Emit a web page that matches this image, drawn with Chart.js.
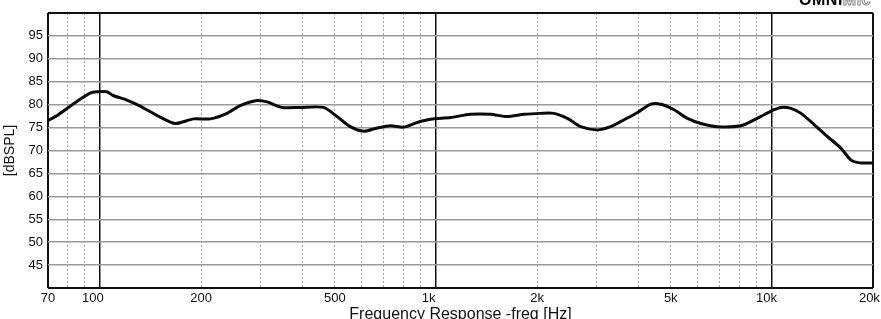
<!DOCTYPE html>
<html>
<head>
<meta charset="utf-8">
<script src="https://cdn.jsdelivr.net/npm/chart.js@4.4.1/dist/chart.umd.min.js"></script>
<style>
  html, body { margin: 0; padding: 0; background: #fff; overflow: hidden; }
  #wrap { position: relative; width: 881px; height: 319px; }
  #logo { position: absolute; right: 10px; top: -8px; font-family: "Liberation Sans", Arial, sans-serif;
          font-size: 16px; line-height: 16px; font-weight: bold; letter-spacing: 0.5px; white-space: nowrap; }
  #logo .o { color: #000; }
  #logo .m { color: #fff; -webkit-text-stroke: 1px #888; }
</style>
</head>
<body>
<div id="wrap">
  <canvas id="c" width="881" height="319"></canvas>
  <div id="logo"><span class="o">OMNI</span><span class="m">Mic</span></div>
</div>
<script>
// ---- data ----
const freqHz = [70, 75.1, 85.3, 93.4, 97.8, 104.7, 109.4, 120.2, 131.6, 151, 167.4, 189.8, 212.9, 238.7,
  261.5, 293.3, 314, 348, 394.7, 463, 507.7, 556, 609.5, 668, 732, 802, 879, 963, 1105, 1267, 1454, 1630,
  1828, 2050, 2245, 2462, 2697, 3024, 3313, 3630, 3981, 4361, 4670, 5116, 5608, 6145, 6890, 8085, 8862,
  9486, 10164, 10640, 11400, 12210, 13380, 14660, 16060, 17200, 18300, 20000];
const splDb = [76.5, 77.8, 80.7, 82.5, 82.8, 82.8, 82.0, 81.0, 79.7, 77.3, 75.9, 76.9, 76.9, 78.1,
  79.8, 80.9, 80.6, 79.4, 79.4, 79.4, 77.4, 75.2, 74.2, 74.9, 75.4, 75.1, 76.1, 76.8, 77.2, 77.9, 77.9, 77.4,
  77.9, 78.1, 78.1, 77.0, 75.2, 74.5, 75.2, 76.7, 78.3, 80.1, 80.1, 78.9, 77.0, 75.9, 75.2, 75.4, 76.7,
  77.8, 78.9, 79.4, 79.2, 78.1, 75.6, 73.0, 70.5, 67.9, 67.3, 67.3];

const xTickValues = [70, 100, 200, 500, 1000, 2000, 5000, 10000, 20000];
const xTickLabels = ['70', '100    ', '200', '500', '1k    ', '2k', '5k', '10k   ', '20k  '];
const xMajorValues = [100, 1000, 10000];
const xMinorValues = [80, 90, 200, 300, 400, 500, 600, 700, 800, 900,
  2000, 3000, 4000, 5000, 6000, 7000, 8000, 9000];
const yMin = 40, yMax = 100, yStep = 5;

const xTitle = 'Frequency Response -freq [Hz]';
const yTitle = '[dBSPL]';

// ---- chart ----
const FONT = '"Liberation Sans", Arial, Helvetica, sans-serif';
const points = freqHz.map((f, i) => ({ x: f, y: splDb[i] }));
const xMin = xTickValues[0], xMax = xTickValues[xTickValues.length - 1];

new Chart(document.getElementById('c'), {
  type: 'line',
  data: {
    datasets: [{
      data: points,
      borderColor: '#0a0a0a',
      borderWidth: 3,
      pointRadius: 0,
      tension: 0.25,
      fill: false
    }]
  },
  options: {
    responsive: false,
    animation: false,
    devicePixelRatio: 1,
    layout: { padding: { top: 13, right: 8, left: 0, bottom: 0 } },
    plugins: { legend: { display: false }, tooltip: { enabled: false } },
    scales: {
      x: {
        type: 'logarithmic',
        position: 'bottom',
        min: xMin, max: xMax,
        afterBuildTicks: (s) => { s.ticks = xTickValues.map(v => ({ value: v })); },
        afterFit: (s) => { s.height = 31; s.paddingLeft = 0; s.paddingRight = 0; },
        ticks: {
          autoSkip: false, maxRotation: 0, minRotation: 0, padding: 3,
          color: '#111', font: { family: FONT, size: 13 },
          callback: (v, i) => xTickLabels[i]
        },
        grid: {
          drawTicks: false,
          color: (c) => {
            const v = c.tick && c.tick.value;
            if (v === xMin || v === xMax) return '#111';
            if (xMajorValues.includes(v)) return '#111';
            return 'rgba(0,0,0,0)';
          },
          lineWidth: (c) => {
            const v = c.tick && c.tick.value;
            if (v === xMin || v === xMax) return 2;
            return 1.5;
          }
        },
        border: { display: false },
        title: { display: true, text: xTitle, color: '#111', font: { family: FONT, size: 16, lineHeight: 0.6 }, padding: { top: 0, bottom: 0 } }
      },
      x2: {
        type: 'logarithmic',
        position: 'bottom',
        min: xMin, max: xMax,
        afterBuildTicks: (s) => { s.ticks = xMinorValues.map(v => ({ value: v })); },
        afterFit: (s) => { s.height = 0; s.paddingLeft = 0; s.paddingRight = 0; },
        ticks: { display: false },
        grid: { drawTicks: false, color: '#a8a8a8', lineWidth: 1 },
        border: { display: false, dash: [2, 2] }
      },
      y: {
        type: 'linear',
        position: 'left',
        min: yMin, max: yMax,
        afterFit: (s) => { s.width = 48; },
        ticks: {
          stepSize: yStep, padding: 5, color: '#111', font: { family: FONT, size: 13 },
          callback: (v) => (v === yMin || v === yMax) ? '' : String(v)
        },
        grid: {
          drawTicks: false,
          color: (c) => {
            const v = c.tick && c.tick.value;
            return (v === yMin || v === yMax) ? '#111' : '#9a9a9a';
          },
          lineWidth: (c) => {
            const v = c.tick && c.tick.value;
            return (v === yMin || v === yMax) ? 2 : 1.5;
          }
        },
        border: { display: false },
        title: { display: true, text: yTitle, color: '#111', font: { family: FONT, size: 14 }, padding: { top: 2, bottom: 0 } }
      }
    }
  }
});
</script>
</body>
</html>
